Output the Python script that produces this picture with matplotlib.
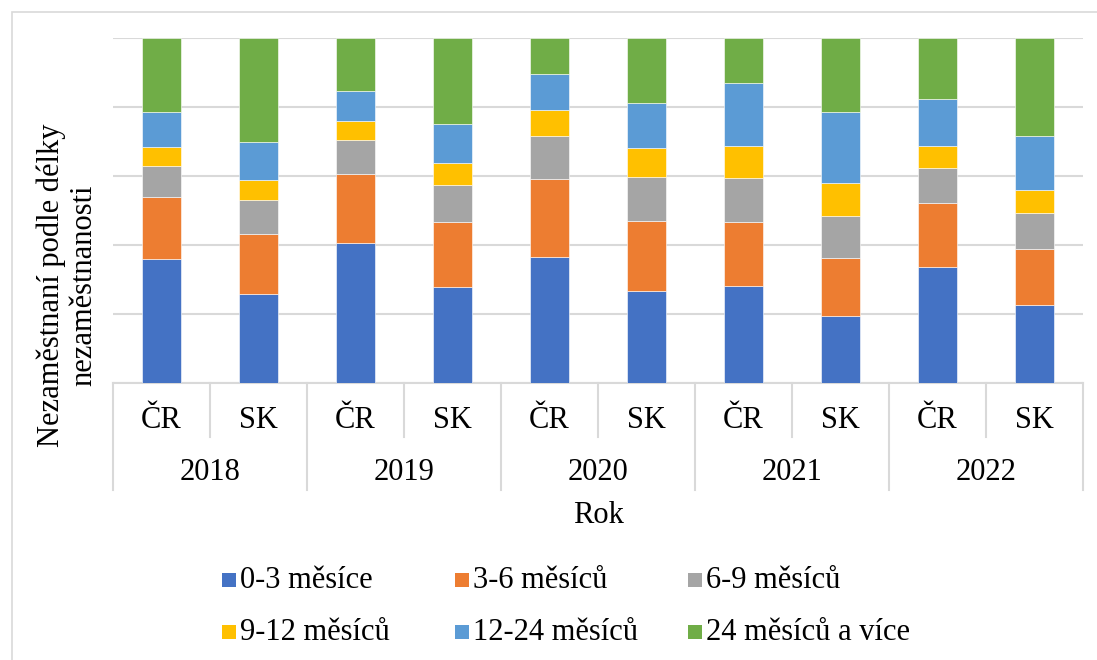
import numpy as np
import matplotlib
matplotlib.use("Agg")
import matplotlib.pyplot as plt
from matplotlib.patches import Rectangle

plt.rcParams["font.family"] = ["Liberation Serif", "DejaVu Serif"]

years = ["2018", "2019", "2020", "2021", "2022"]
countries = ["ČR", "SK"]
series = ["0-3 měsíce", "3-6 měsíců", "6-9 měsíců",
          "9-12 měsíců", "12-24 měsíců", "24 měsíců a více"]
colors = ["#4472C4", "#ED7D31", "#A5A5A5", "#FFC000", "#5B9BD5", "#70AD47"]
ylabel_lines = ["Nezaměstnaní podle délky", "nezaměstnanosti"]

# shares in % per bar (ČR 2018, SK 2018, ČR 2019, ...)
m0_3 = [35.9, 25.7, 40.6, 27.8, 36.4, 26.6, 28.0, 19.4, 33.6, 22.6]
m3_6 = [18.0, 17.5, 20.0, 19.0, 22.6, 20.3, 18.8, 16.8, 18.6, 16.4]
m6_9 = [9.2, 9.7, 9.7, 10.6, 12.6, 12.9, 12.6, 12.3, 10.1, 10.3]
m9_12 = [5.5, 5.9, 5.7, 6.5, 7.5, 8.3, 9.3, 9.5, 6.5, 6.7]
m12_24 = [9.9, 11.0, 8.6, 11.3, 10.4, 13.2, 18.3, 20.6, 13.5, 15.7]
m24_plus = [21.6, 30.1, 15.4, 24.8, 10.4, 18.8, 13.0, 21.4, 17.7, 28.4]

W, H = 1097, 660
FS = 22
fig = plt.figure(figsize=(W / 100, H / 100), dpi=100)


def fx(px):
    return px / W


def fy(py):
    return 1 - py / H


# outer chart border (left / top)
fig.add_artist(Rectangle((fx(12), -0.1), 1.2, fy(12) + 0.1, transform=fig.transFigure,
                         fill=False, edgecolor="#d9d9d9", linewidth=1.2))

ax = fig.add_axes([fx(113), fy(383), fx(1083) - fx(113), fy(38) - fy(383)])

data = np.array([m0_3, m3_6, m6_9, m9_12, m12_24, m24_plus])
data = data / data.sum(axis=0) * 100
x = np.arange(data.shape[1])
bottom = np.zeros(data.shape[1])
for vals, name, col in zip(data, series, colors):
    ax.bar(x, vals, 0.4, bottom=bottom, color=col, edgecolor="white",
           linewidth=0.4, label=name, zorder=3)
    bottom += vals

ax.set_xlim(-0.5, len(x) - 0.5)
ax.set_ylim(0, 100)
ax.set_yticks(np.arange(0, 101, 20))
ax.grid(axis="y", color="#d9d9d9", linewidth=1.5, zorder=0)
ax.set_xticks([])
ax.tick_params(axis="y", length=0, labelleft=False)
for s in ax.spines.values():
    s.set_visible(False)

# category table below the axis
tr = ax.get_xaxis_transform()
ax.plot([-0.5, len(x) - 0.5], [0, 0], color="#d9d9d9", linewidth=1.5,
        transform=tr, clip_on=False)
for i in range(len(years) + 1):
    xb = -0.5 + 2 * i
    ax.plot([xb, xb], [0, -0.31], color="#d9d9d9", linewidth=1.5,
            transform=tr, clip_on=False)
for i in range(len(years)):
    xb = 0.5 + 2 * i
    ax.plot([xb, xb], [0, -0.157], color="#d9d9d9", linewidth=1.5,
            transform=tr, clip_on=False)
    ax.text(2 * i + 0.5, -0.26, years[i], transform=tr, ha="center",
            va="center", fontsize=FS)
    for j, c in enumerate(countries):
        ax.text(2 * i + j, -0.11, c, transform=tr, ha="center",
                va="center", fontsize=FS)

ax.text(4.5, -0.383, "Rok", transform=tr, ha="center", va="center", fontsize=FS)

# two-line rotated y label, baselines placed explicitly
for line, bx in zip(ylabel_lines, [59, 91]):
    fig.text(fx(bx), fy(285), line, rotation=90, rotation_mode="anchor",
             ha="center", va="baseline", fontsize=FS)

# legend
leg_x = [222, 455, 688]
leg_y = [580, 632]
for k, (name, col) in enumerate(zip(series, colors)):
    cx = leg_x[k % 3]
    cy = leg_y[k // 3]
    fig.add_artist(Rectangle((fx(cx), fy(cy + 7)), fx(14), fy(cy - 7) - fy(cy + 7),
                             transform=fig.transFigure, facecolor=col,
                             edgecolor="none"))
    fig.text(fx(cx + 18), fy(cy), name, ha="left", va="center", fontsize=FS)

fig.savefig("out.png", dpi=100)
